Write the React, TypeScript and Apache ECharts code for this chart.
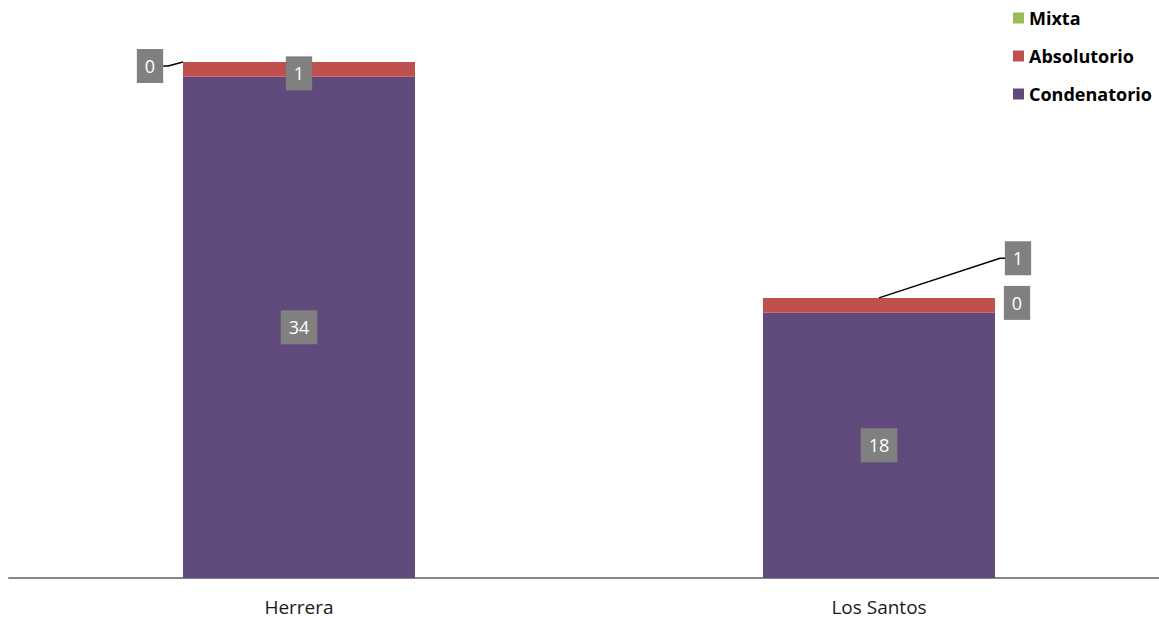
import React, { useEffect, useRef } from "react";
import * as echarts from "echarts";

const categories = ["Herrera", "Los Santos"];
const condenatorio = [34, 18];
const absolutorio = [1, 1];
const mixta = [0, 0];
const legendOrder = ["Mixta", "Absolutorio", "Condenatorio"];

const FONT = "'Open Sans', 'Liberation Sans', sans-serif";

const labelBase = {
  show: true,
  position: "inside" as const,
  color: "#ffffff",
  backgroundColor: "#808080",
  fontFamily: FONT,
  fontSize: 18,
  lineHeight: 20,
  padding: [7, 8, 7, 8],
};

export default function App() {
  const ref = useRef<HTMLDivElement>(null);
  useEffect(() => {
    if (!ref.current) return;
    const chart = echarts.init(ref.current, undefined, { renderer: "svg" });
    const mixtaShift = [
      [-149, 4],
      [138, 5],
    ];
    const absShift = [
      [0, 4],
      [139, -47],
    ];
    chart.setOption({
      animation: false,
      backgroundColor: "#ffffff",
      legend: {
        data: legendOrder,
        orient: "vertical",
        left: 1013,
        top: 8,
        padding: 0,
        itemWidth: 11,
        itemHeight: 11,
        itemGap: 18,
        icon: "rect",
        textStyle: {
          fontFamily: FONT,
          fontSize: 18,
          fontWeight: "bold",
          color: "#000000",
          lineHeight: 20,
        },
        selectedMode: false,
      },
      grid: { left: 9, width: 1160, top: 62, bottom: 42, containLabel: false },
      xAxis: {
        type: "category",
        data: categories,
        axisLine: { lineStyle: { color: "#878787", width: 2 } },
        axisTick: { show: false },
        axisLabel: {
          fontFamily: FONT,
          fontSize: 19,
          color: "#1a1a1a",
          margin: 19,
        },
      },
      yAxis: {
        type: "value",
        min: 0,
        max: 35,
        show: false,
        splitLine: { show: false },
      },
      series: [
        {
          name: "Condenatorio",
          type: "bar",
          stack: "total",
          barWidth: 232,
          data: condenatorio,
          itemStyle: { color: "#604A7B" },
          label: { ...labelBase },
        },
        {
          name: "Absolutorio",
          type: "bar",
          stack: "total",
          barWidth: 232,
          data: absolutorio,
          itemStyle: { color: "#C0504D" },
          label: { ...labelBase },
          labelLayout: (p: any) => ({
            dx: absShift[p.dataIndex][0],
            dy: absShift[p.dataIndex][1],
          }),
        },
        {
          name: "Mixta",
          type: "bar",
          stack: "total",
          barWidth: 232,
          data: mixta.map((v, i) => ({
            value: v,
            labelLine: { show: i === 0 },
          })),
          itemStyle: { color: "#9BBB59" },
          label: { ...labelBase },
          labelLine: {
            show: true,
            length2: 5,
            lineStyle: { color: "#000000", width: 1.5 },
          },
          labelLayout: (p: any) => ({
            dx: mixtaShift[p.dataIndex][0],
            dy: mixtaShift[p.dataIndex][1],
          }),
        },
      ],
    });

    // Leader line for the displaced Absolutorio label of Los Santos,
    // computed from the chart's own scales.
    const i = 1;
    const total = condenatorio[i] + absolutorio[i];
    const top = chart.convertToPixel({ seriesIndex: 0 }, [categories[i], total]) as number[];
    const mid = chart.convertToPixel({ seriesIndex: 0 }, [
      categories[i],
      condenatorio[i] + absolutorio[i] / 2,
    ]) as number[];
    const labelCx = mid[0] + absShift[i][0];
    const labelCy = mid[1] + absShift[i][1];
    const halfW = 13;
    const labelLeft = labelCx - halfW;
    chart.setOption({
      graphic: [
        {
          type: "polyline",
          silent: true,
          z: 100,
          shape: {
            points: [
              [top[0], top[1]],
              [labelLeft - 5, labelCy],
              [labelLeft, labelCy],
            ],
          },
          style: { stroke: "#000000", lineWidth: 1.5, fill: "none" },
        },
      ],
    });
    return () => chart.dispose();
  }, []);
  return (
    <div
      style={{
        position: "absolute",
        left: 0,
        top: 0,
        width: 1159,
        height: 620,
        overflow: "hidden",
      }}
    >
      <div ref={ref} style={{ width: 1170, height: 620 }} />
    </div>
  );
}
